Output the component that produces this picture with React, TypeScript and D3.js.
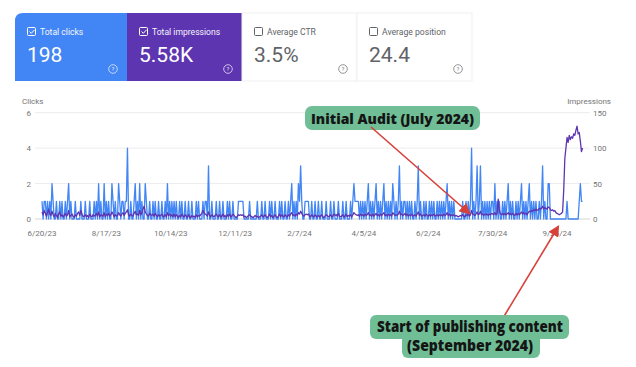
import React from "react";
import * as d3 from "d3";

// ---- Data (daily, starting 6/20/23) ----
const startDate = "6/20/23";

const clicks: number[] = [
  1,0,1,1,0,1,0,1,0,2, 1,0,0,1,0,0,1,0,1,0, 0,1,0,1,2,0,1,0,0,0, 1,0,0,0,0,1,0,0,0,1,
  0,0,0,1,0,0,0,1,0,1, 0,2,0,1,0,0,2,0,1,0, 1,0,0,2,1,0,1,0,0,2, 1,0,1,1,0,1,1,4,0,0,
  1,0,0,1,2,0,1,0,2,0, 1,0,0,2,1,0,0,1,0,0, 1,0,1,0,0,1,0,0,1,0, 0,1,0,2,0,1,0,1,0,1,
  0,1,0,0,1,0,1,0,0,1, 0,0,1,0,0,1,0,0,0,1, 0,1,0,0,0,1,0,1,1,0, 3,0,0,1,0,0,0,1,0,0,
  1,0,0,1,0,0,0,1,0,1, 0,0,1,0,0,0,0,1,1,1, 1,1,0,0,0,0,0,1,0,0, 0,0,0,0,1,0,0,0,1,0,
  0,1,0,0,0,1,0,1,0,0, 1,0,0,0,1,0,1,0,0,1, 0,0,1,0,1,2,0,1,0,1, 0,2,1,3,1,0,0,1,1,1,
  1,0,0,1,0,0,1,0,0,1, 0,0,1,0,0,0,1,0,0,0, 1,0,0,1,0,0,0,1,0,0, 0,1,0,0,1,0,0,0,1,0,
  1,2,1,1,1,1,0,1,0,1, 0,1,0,1,2,0,1,0,1,0, 1,2,0,1,0,1,0,1,2,0, 1,0,1,0,1,0,2,1,0,1,
  0,1,3,0,1,0,1,1,0,1, 0,1,0,1,0,0,1,0,1,3, 0,1,0,0,1,0,1,0,0,1, 0,1,0,1,0,0,1,0,1,0,
  1,0,1,0,1,2,0,1,0,1, 0,1,0,0,0,0,0,0,0,1, 0,0,1,0,1,0,1,4,0,1, 0,1,3,0,1,3,0,1,0,1,
  0,1,0,1,0,1,1,0,2,0, 1,0,1,0,0,1,0,1,0,1, 2,0,1,0,1,0,0,1,0,1, 0,1,2,0,1,0,1,0,1,2,
  0,1,0,1,0,1,0,0,1,0, 1,3,0,1,0,0,2,2,0,0, 0,0,0,0,0,0,0,0,0,0, 0,0,0,1,0,0,0,0,0,0,
  0,0,0,0,1,2,1,1,
];

const impressions: number[] = [
  10,6,12,8,4,9,14,7,5,11, 6,3,8,5,2,7,10,4,6,3, 5,8,4,6,12,3,5,7,4,2, 6,4,8,10,5,12,7,3,4,6,
  3,5,2,7,4,3,6,4,5,8, 4,10,3,6,5,4,9,3,7,5, 8,4,6,10,7,3,6,4,5,9, 6,4,7,9,5,8,10,13,6,4,
  7,5,4,8,11,6,7,5,12,6, 9,14,18,10,7,5,4,8,6,5, 7,4,8,5,3,6,4,5,7,3, 4,6,3,9,5,7,4,6,3,7,
  3,6,4,2,5,3,7,4,3,6, 4,2,6,3,2,5,3,4,2,6, 3,5,4,6,8,12,9,7,6,4, 10,5,3,6,4,3,5,7,4,3,
  6,3,4,7,3,5,2,6,4,7, 3,4,7,5,3,2,4,6,5,6, 5,6,3,4,2,3,5,6,4,3, 2,3,5,3,4,2,3,4,6,3,
  4,6,3,2,4,7,3,5,2,4, 6,3,2,4,7,3,6,4,3,6, 4,3,6,4,7,9,5,6,4,7, 5,9,7,11,8,5,4,6,7,6,
  7,4,3,6,4,3,6,4,3,5, 3,4,6,3,2,4,6,5,3,4, 6,3,4,7,5,6,4,8,4,3, 4,6,3,4,7,3,5,4,6,3,
  6,9,7,6,5,6,4,7,5,6, 4,7,5,6,9,5,6,4,7,4, 6,8,5,6,4,7,5,7,9,5, 6,4,7,5,6,4,9,7,5,6,
  5,7,11,6,7,5,6,8,5,7, 4,6,5,7,4,5,6,4,7,10, 5,7,4,5,6,4,7,5,4,6, 4,6,5,7,4,5,6,4,6,5,
  6,4,7,5,6,9,5,7,4,6, 5,6,4,5,4,3,4,5,4,6, 4,3,6,5,7,4,6,12,7,6, 5,7,10,6,7,11,6,7,5,7,
  6,7,5,7,6,8,7,6,9,6, 8,28,12,7,6,8,6,8,6,7, 9,6,8,6,8,6,5,8,6,8, 6,8,10,7,9,7,8,6,9,11,
  10,12,11,13,12,14,12,13,15,14, 15,18,14,16,15,14,17,16,13,12, 13,11,12,9,8,7,6,7,8,10,
  40,85,100,115,108,118,112,116,114,120, 118,125,131,120,122,110,95,100,
];

const xTickLabels = ["6/20/23", "8/17/23", "10/14/23", "12/11/23", "2/7/24", "4/5/24", "6/2/24", "7/30/24", "9/26/24"];
const clickTicks = [0, 2, 4, 6];
const impressionTicks = [0, 50, 100, 150];

const cardLabels = ["Total clicks", "Total impressions", "Average CTR", "Average position"];
const cardValues = ["198", "5.58K", "3.5%", "24.4"];
const cardChecked = [true, true, false, false];

// ---- helpers ----
const parseDate = (s: string) => {
  const [m, d, y] = s.split("/").map(Number);
  return new Date(2000 + y, m - 1, d);
};

const FONT = "Roboto, 'Noto Sans', sans-serif";
const ANN_FONT = "'Open Sans', Lato, sans-serif";
const BLUE = "#4285f4";
const PURPLE = "#5e35b1";
const GREEN = "#6fbe96";
const RED = "#d8403a";
const GREY = "#757575";

export default function App() {
  const start = parseDate(startDate);
  const dates = clicks.map((_, i) => d3.timeDay.offset(start, i));
  const last = dates[dates.length - 1];

  const x = d3
    .scaleTime()
    .domain([start, last])
    .range([42, 42 + (dates.length - 1) * 1.11]);
  const yL = d3.scaleLinear().domain([0, 6]).range([219, 112.7]);
  const yR = d3.scaleLinear().domain([0, 150]).range([219, 112.7]);

  const clickLine = d3
    .line<number>()
    .x((_, i) => x(dates[i]))
    .y((v) => yL(v));
  const impLine = d3
    .line<number>()
    .x((_, i) => x(dates[i]))
    .y((v) => yR(v));

  const cardX = [15, 127, 242, 357];
  const cardW = [112, 115, 115, 115];
  const cardFill = [BLUE, PURPLE, "#ffffff", "#ffffff"];

  return (
    <svg
      width={636}
      height={367}
      style={{ position: "fixed", left: 0, top: 0, background: "#fff" }}
      fontFamily={FONT}
    >
      <defs>
        <marker id="arrowRed" viewBox="0 0 10 10" refX="8" refY="5" markerWidth="7" markerHeight="7" orient="auto-start-reverse">
          <path d="M0,0 L10,5 L0,10 z" fill={RED} />
        </marker>
      </defs>
      <rect width={636} height={367} fill="#fff" />

      {/* cards */}
      {cardLabels.map((lab, i) => {
        const cx = cardX[i];
        const filled = i < 2;
        const fg = filled ? "#ffffff" : "#5f6368";
        return (
          <g key={lab}>
            {i === 0 ? (
              <path
                d={`M${cx},81 V${13 + 8} Q${cx},13 ${cx + 8},13 H${cx + cardW[i]} V81 Z`}
                fill={cardFill[i]}
              />
            ) : (
              <rect
                x={cx}
                y={13}
                width={cardW[i]}
                height={68}
                fill={cardFill[i]}
                stroke={filled ? "none" : "#efefef"}
                strokeWidth={1}
              />
            )}
            <rect x={cx + 12.5} y={27.5} width={8} height={8} rx={1} fill="none" stroke={fg} strokeWidth={1} />
            {cardChecked[i] && (
              <path d={`M${cx + 14.5},31.5 l1.8,1.8 l3.4,-3.6`} fill="none" stroke={fg} strokeWidth={1} />
            )}
            <text x={cx + 25} y={34.5} fontSize={8.6} fill={fg} opacity={filled ? 0.95 : 1}>
              {lab}
            </text>
            <text x={cx + 12} y={62} fontSize={21} fill={fg}>
              {cardValues[i]}
            </text>
            <circle cx={cx + cardW[i] - 14} cy={69} r={4.3} fill="none" stroke={fg} strokeWidth={0.8} opacity={0.85} />
            <text x={cx + cardW[i] - 14} y={71.2} fontSize={6} textAnchor="middle" fill={fg} opacity={0.85}>
              ?
            </text>
          </g>
        );
      })}

      {/* gridlines */}
      {clickTicks.map((t) => (
        <line key={t} x1={35} x2={590} y1={yL(t)} y2={yL(t)} stroke={t === 0 ? "#d5d5d5" : "#ececec"} strokeWidth={1} />
      ))}

      {/* axis titles */}
      <text x={22} y={104} fontSize={8} fill={GREY}>Clicks</text>
      <text x={611} y={104} fontSize={8} fill={GREY} textAnchor="end">Impressions</text>

      {clickTicks.map((t) => (
        <text key={t} x={31} y={yL(t) + 3} fontSize={8} fill={GREY} textAnchor="end">
          {t}
        </text>
      ))}
      {impressionTicks.map((t) => (
        <text key={t} x={593} y={yR(t) + 3} fontSize={8} fill={GREY}>
          {t}
        </text>
      ))}
      {xTickLabels.map((s) => (
        <text key={s} x={x(parseDate(s))} y={236} fontSize={8} fill={GREY} textAnchor="middle">
          {s}
        </text>
      ))}

      {/* lines */}
      <path d={clickLine(clicks) || ""} fill="none" stroke={BLUE} strokeWidth={1.3} strokeLinejoin="round" />
      <path d={impLine(impressions) || ""} fill="none" stroke={PURPLE} strokeWidth={1.3} strokeLinejoin="round" />

      {/* annotation 1 */}
      <rect x={305} y={106} width={175} height={24} rx={7} fill={GREEN} />
      <line x1={371} y1={127} x2={469} y2={213} stroke={RED} strokeWidth={1.6} markerEnd="url(#arrowRed)" />
      <text x={392.5} y={123.5} fontSize={14} fontWeight={800} fill="#151515" textAnchor="middle" fontFamily={ANN_FONT} textLength={163} lengthAdjust="spacingAndGlyphs">
        Initial Audit (July 2024)
      </text>

      {/* annotation 2 */}
      <line x1={503} y1={318} x2={558} y2={227} stroke={RED} strokeWidth={1.6} markerEnd="url(#arrowRed)" />
      <rect x={370} y={315} width={199} height={24} rx={6} fill={GREEN} />
      <rect x={402} y={334} width={138} height={24} rx={6} fill={GREEN} />
      <text x={470} y={332} fontSize={15} fontWeight={800} fill="#151515" textAnchor="middle" fontFamily={ANN_FONT} textLength={186} lengthAdjust="spacingAndGlyphs">
        Start of publishing content
      </text>
      <text x={470} y={351} fontSize={15} fontWeight={800} fill="#151515" textAnchor="middle" fontFamily={ANN_FONT} textLength={126} lengthAdjust="spacingAndGlyphs">
        (September 2024)
      </text>
    </svg>
  );
}
